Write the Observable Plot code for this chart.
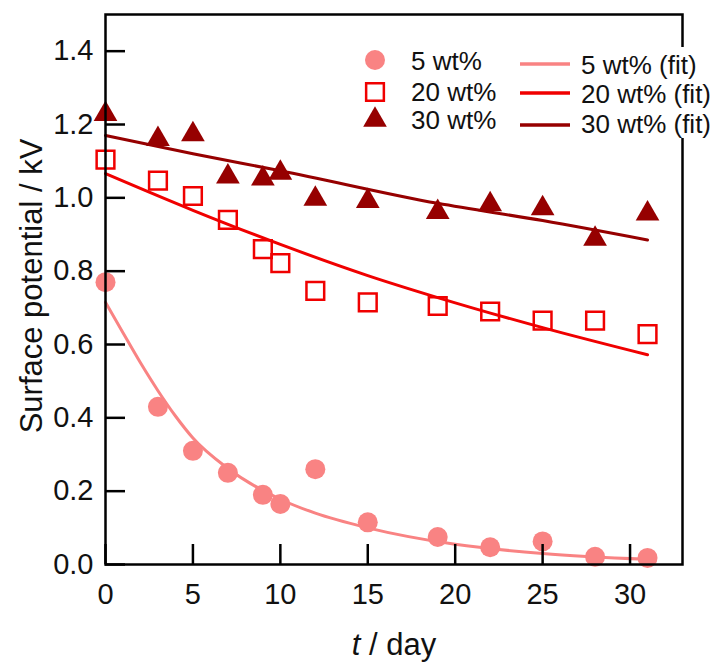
<!DOCTYPE html>
<html><head><meta charset="utf-8">
<script src="https://cdn.jsdelivr.net/npm/d3@7"></script>
<script src="https://cdn.jsdelivr.net/npm/@observablehq/plot@0.6"></script>
<style>
body{margin:0;background:#fff;}
#wrap{position:relative;width:715px;height:664px;}
#wrap svg.overlay{position:absolute;left:0;top:0;pointer-events:none;}
</style></head><body><div id="wrap"></div>
<script>
// ---- data ----
const days = [0, 3, 5, 7, 9, 10, 12, 15, 19, 22, 25, 28, 31];
const v5  = [0.77, 0.43, 0.31, 0.25, 0.19, 0.165, 0.26, 0.115, 0.075, 0.047, 0.063, 0.021, 0.018];
const v20 = [1.104, 1.047, 1.005, 0.94, 0.86, 0.822, 0.746, 0.715, 0.705, 0.69, 0.665, 0.665, 0.628];
const v30 = [1.228, 1.16, 1.173, 1.058, 1.052, 1.068, 0.997, 0.991, 0.961, 0.982, 0.971, 0.888, 0.957];

const fitDays5 = [0, 1, 2, 3, 4, 5, 7, 10, 12, 15, 20, 25, 31];
const fit5     = [0.715, 0.632, 0.55, 0.474, 0.405, 0.345, 0.262, 0.178, 0.14, 0.1, 0.055, 0.03, 0.014];
const fitDays20 = [0, 5, 10, 15, 19, 25, 31];
const fit20     = [1.066, 0.966, 0.873, 0.788, 0.728, 0.646, 0.572];
const fitDays30 = [0, 5, 10, 19, 25, 31];
const fit30     = [1.17, 1.12, 1.074, 0.985, 0.938, 0.885];

const xTicks = [0, 5, 10, 15, 20, 25, 30];
const yTicks = [0, 0.2, 0.4, 0.6, 0.8, 1.0, 1.2, 1.4];
const legendPointLabels = ["5 wt%", "20 wt%", "30 wt%"];
const legendFitLabels = ["5 wt% (fit)", "20 wt% (fit)", "30 wt% (fit)"];
const xTitleParts = ["t", " / day"];
const yTitle = "Surface potential / kV";

// ---- styles ----
const c5 = "#f98383", c20 = "#f00000", c30 = "#960000";
const colors = [c5, c20, c30];
const font = "'Liberation Sans', Arial, sans-serif";
const W = 715, H = 664, mT = 14, mR = 33, mB = 100, mL = 105, tickLen = 20;

const rows = (xs, ys) => xs.map((d, i) => ({day: d, v: ys[i]}));

const chart = Plot.plot({
  width: W, height: H,
  marginTop: mT, marginRight: mR, marginBottom: mB, marginLeft: mL,
  style: {fontFamily: font, fontSize: "29px", color: "#111", background: "#fff"},
  x: {domain: [0, 33]},
  y: {domain: [0, 1.5]},
  marks: [
    Plot.line(rows(fitDays5, fit5), {x: "day", y: "v", stroke: c5, strokeWidth: 3, curve: "monotone-x"}),
    Plot.line(rows(fitDays20, fit20), {x: "day", y: "v", stroke: c20, strokeWidth: 3, curve: "monotone-x"}),
    Plot.line(rows(fitDays30, fit30), {x: "day", y: "v", stroke: c30, strokeWidth: 3, curve: "monotone-x"}),
    Plot.dot(rows(days, v5), {x: "day", y: "v", r: 10, fill: c5, symbol: "circle"}),
    Plot.dot(rows(days, v20), {x: "day", y: "v", r: 10, symbol: "square", fill: "none", stroke: c20, strokeWidth: 2.5}),
    Plot.dot(rows(days, v30), {x: "day", y: "v", r: 8.8, symbol: "triangle", fill: c30}),
    // inward ticks
    Plot.tickX(xTicks, {x: d => d, stroke: "#000", strokeWidth: 2.5, insetTop: (H - mT - mB) - tickLen}),
    Plot.tickY(yTicks, {y: d => d, stroke: "#000", strokeWidth: 2.5, insetRight: (W - mL - mR) - tickLen}),
    Plot.axisX({ticks: xTicks, tickSize: 0, tickPadding: 19, label: null, tickFormat: d => String(d)}),
    Plot.axisY({ticks: yTicks, tickSize: 0, tickPadding: 12, label: null, tickFormat: d => d.toFixed(1)}),
    Plot.frame({stroke: "#000", strokeWidth: 2.5})
  ]
});
const wrap = document.getElementById("wrap");
wrap.appendChild(chart);

// axis titles
const svg = d3.select(chart);
const xt = svg.append("text")
  .attr("x", 394).attr("y", 655)
  .attr("text-anchor", "middle")
  .attr("font-family", font).attr("font-size", 31).attr("fill", "#111");
xt.append("tspan").attr("font-style", "italic").text(xTitleParts[0]);
xt.append("tspan").text(xTitleParts[1]);
svg.append("text")
  .attr("transform", "translate(31,286) rotate(-90)")
  .attr("text-anchor", "middle").attr("dominant-baseline", "central")
  .attr("font-family", font).attr("font-size", 31).attr("fill", "#111")
  .text(yTitle);

// legend overlay
const ov = d3.select(wrap).append("svg").attr("class", "overlay")
  .attr("width", W).attr("height", H);
ov.append("rect").attr("x", 355).attr("y", 47).attr("width", 350).attr("height", 91).attr("fill", "#fff");
const symY = [60, 92, 120], txtY = [61, 92, 120];
const lineY = [64, 93, 125], fitTxtY = [65, 94, 124];
const symTypes = [d3.symbolCircle, d3.symbolSquare, d3.symbolTriangle];
const symSizes = [Math.PI * 100, Math.PI * 100, Math.PI * 77];
legendPointLabels.forEach((lab, i) => {
  const p = ov.append("path")
    .attr("transform", `translate(375,${symY[i]})`)
    .attr("d", d3.symbol(symTypes[i], symSizes[i])());
  if (i === 1) p.attr("fill", "none").attr("stroke", colors[i]).attr("stroke-width", 2.5);
  else p.attr("fill", colors[i]);
  ov.append("text").attr("x", 411).attr("y", txtY[i])
    .attr("dominant-baseline", "central")
    .attr("font-family", font).attr("font-size", 26).attr("fill", "#111").text(lab);
});
legendFitLabels.forEach((lab, i) => {
  ov.append("line").attr("x1", 520).attr("x2", 570).attr("y1", lineY[i]).attr("y2", lineY[i])
    .attr("stroke", colors[i]).attr("stroke-width", 3.5);
  ov.append("text").attr("x", 581).attr("y", fitTxtY[i])
    .attr("dominant-baseline", "central")
    .attr("font-family", font).attr("font-size", 26).attr("fill", "#111").text(lab);
});
</script></body></html>
